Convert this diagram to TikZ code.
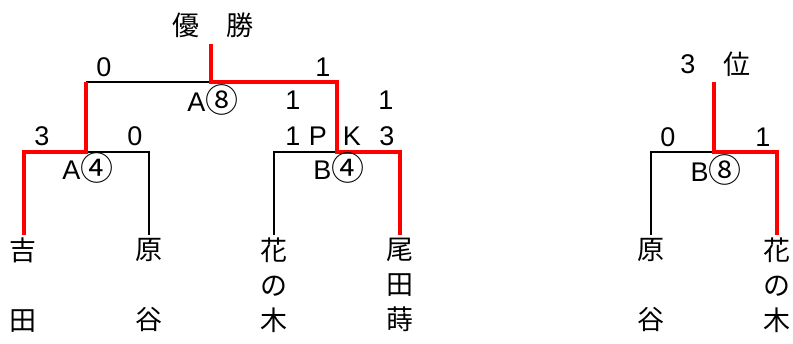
\documentclass[tikz,border=0pt]{standalone}
\usepackage{fontspec}
\setmainfont{Liberation Sans}
\newfontfamily\cjk{Noto Sans CJK JP}
\newcommand{\circd}[1]{{\cjk\fontsize{33}{33}\selectfont\raisebox{-1.5pt}{#1}}}
\begin{document}
\begin{tikzpicture}[x=1pt,y=-1pt,
  lbl/.style={inner sep=0pt,font=\fontsize{27}{30}\selectfont},
  cj/.style={inner sep=0pt,font=\cjk\fontsize{27}{35}\selectfont},
  namecol/.style={inner sep=0pt,anchor=north,align=center,font=\cjk\fontsize{27}{35}\selectfont},
  loser/.style={draw=black,line width=2.2pt},
  winner/.style={draw=red,line width=4.5pt}]
\useasboundingbox (0,0) rectangle (793,343);
% joints
\coordinate (top) at (211,44);
\coordinate (fL) at (86,82);
\coordinate (fM) at (211,82);
\coordinate (fR) at (337,82);
\coordinate (sL1) at (24,152);
\coordinate (sLM) at (86,152);
\coordinate (sL2) at (149,152);
\coordinate (sR1) at (274,152);
\coordinate (sRM) at (337,152);
\coordinate (sR2) at (400,152);
\coordinate (e1) at (24,235);
\coordinate (e2) at (149,235);
\coordinate (e3) at (274,235);
\coordinate (e4) at (400,235);
\coordinate (ttop) at (714,82);
\coordinate (tL) at (651,152);
\coordinate (tM) at (714,152);
\coordinate (tR) at (777,152);
\coordinate (te1) at (651,235);
\coordinate (te2) at (777,235);
% black brackets
\draw[loser] (fL) -- (fM);
\draw[loser] (sLM) -- (sL2) -- (e2);
\draw[loser] (e3) -- (sR1) -- (sRM);
\draw[loser] (te1) -- (tL) -- (tM);
% red winner paths
\draw[winner] (top) -- (fM) -- (fR) -- (sRM) -- (sR2) -- (e4);
\draw[winner] (fL) -- (sLM) -- (sL1) -- (e1);
\draw[winner] (ttop) -- (tM) -- (tR) -- (te2);
% titles
\node[cj] (champ) at (213,25) {優　勝};
\node[lbl] (third3) at (688,64) {3};
\node[cj] (third) at (737,64) {位};
% scores
\node[lbl] (s1) at (104,67) {0};
\node[lbl] (s2) at (323,67) {1};
\node[lbl] (a8) at (213,100) {A\circd{⑧}};
\node[lbl] (s3) at (293,100) {1};
\node[lbl] (s4) at (386,100) {1};
\node[lbl] (s5) at (42,136) {3};
\node[lbl] (s6) at (135,136) {0};
\node[lbl] (s7) at (293,136) {1};
\node[lbl] (pP) at (318,136) {P};
\node[lbl] (pK) at (352,136) {K};
\node[lbl] (s8) at (387,136) {3};
\node[lbl] (a4) at (88,168) {A\circd{④}};
\node[lbl] (b4) at (339,168) {B\circd{④}};
\node[lbl] (s9) at (668,137) {0};
\node[lbl] (s10) at (763,137) {1};
\node[lbl] (b8) at (716,170) {B\circd{⑧}};
% names
\node[namecol] (n1) at (23,238) {吉\\\mbox{}\\田};
\node[namecol] (n2) at (149,238) {原\\\mbox{}\\谷};
\node[namecol] (n3) at (274,238) {花\\の\\木};
\node[namecol] (n4) at (400,238) {尾\\田\\蒔};
\node[namecol] (n5) at (651,238) {原\\\mbox{}\\谷};
\node[namecol] (n6) at (777,238) {花\\の\\木};
\end{tikzpicture}
\end{document}
